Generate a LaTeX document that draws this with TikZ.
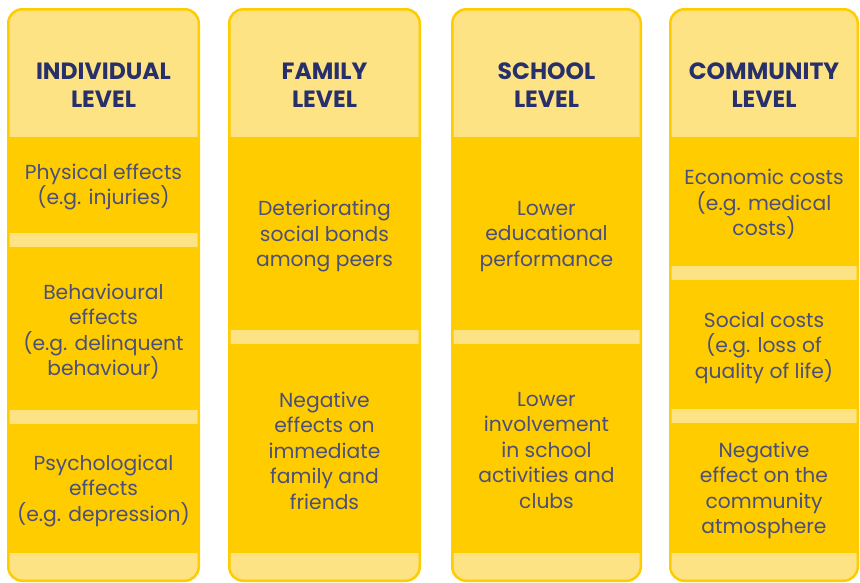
\documentclass[tikz,border=0pt]{standalone}
\usepackage{fontspec}
\setmainfont{Poppins}
\definecolor{goldY}{HTML}{FFCC00}
\definecolor{lightY}{HTML}{FDE383}
\definecolor{navyT}{HTML}{27306B}
\definecolor{bodyT}{HTML}{4B4F7B}
\tikzset{
  col/.style={fill=lightY, draw=goldY, line width=2.5pt, rounded corners=14pt},
  blk/.style={fill=goldY, draw=none},
  hdr/.style={text=navyT, align=center, inner sep=0pt,
    font=\fontsize{23.5}{28.5}\selectfont\bfseries},
  body/.style={text=bodyT, align=center, inner sep=0pt,
    font=\fontsize{20.3}{25.5}\selectfont},
}
\begin{document}
\begin{tikzpicture}[x=1pt, y=-1pt]
\useasboundingbox (0,0) rectangle (860,582);

% column frames
\draw[col] (8.25,9.25) rectangle (198.75,580.75);
\draw[col] (229.25,9.25) rectangle (419.75,580.75);
\draw[col] (452.25,9.25) rectangle (640.75,580.75);
\draw[col] (670.25,9.25) rectangle (857.75,580.75);

% individual level blocks
\fill[blk] (7,137) rectangle (200,233);
\fill[blk] (7,247) rectangle (200,410);
\fill[blk] (7,424) rectangle (200,553);
% family level blocks
\fill[blk] (228,137) rectangle (421,330);
\fill[blk] (228,344) rectangle (421,553);
% school level blocks
\fill[blk] (451,137) rectangle (642,330);
\fill[blk] (451,344) rectangle (642,553);
% community level blocks
\fill[blk] (669,137) rectangle (859,266);
\fill[blk] (669,280) rectangle (859,409);
\fill[blk] (669,423) rectangle (859,553);

% headings
\node[hdr] (h1) at (103.5,85) {INDIVIDUAL\\LEVEL};
\node[hdr] (h2) at (324.5,85) {FAMILY\\LEVEL};
\node[hdr] (h3) at (546.5,85) {SCHOOL\\LEVEL};
\node[hdr] (h4) at (764,85) {COMMUNITY\\LEVEL};

% individual level effects
\node[body] (i1) at (103.5,187) {Physical effects\\(e.g. injuries)};
\node[body] (i2) at (103.5,331.5) {Behavioural\\effects\\(e.g. delinquent\\behaviour)};
\node[body] (i3) at (103.5,491) {Psychological\\effects\\(e.g. depression)};
% family level effects
\node[body] (f1) at (324.5,236.5) {Deteriorating\\social bonds\\among peers};
\node[body] (f2) at (324.5,450.5) {Negative\\effects on\\immediate\\family and\\friends};
% school level effects
\node[body] (s1) at (546.5,236.5) {Lower\\educational\\performance};
\node[body] (s2) at (546.5,450.5) {Lower\\involvement\\in school\\activities and\\clubs};
% community level effects
\node[body] (c1) at (764,204.5) {Economic costs\\(e.g. medical\\costs)};
\node[body] (c2) at (764,347.5) {Social costs\\(e.g. loss of\\quality of life)};
\node[body] (c3) at (764,490.5) {Negative\\effect on the\\community\\atmosphere};
\end{tikzpicture}
\end{document}
